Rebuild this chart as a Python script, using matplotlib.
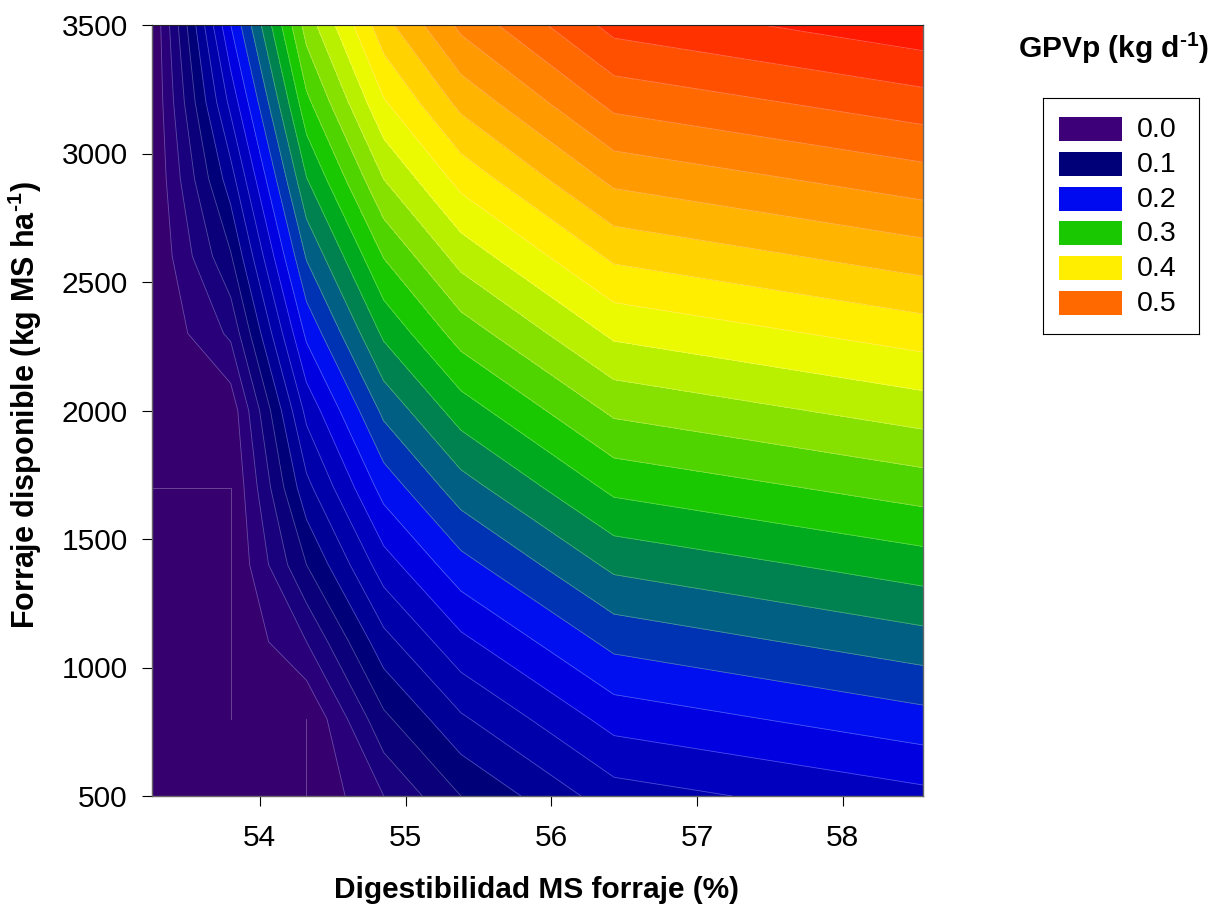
import numpy as np
import matplotlib
matplotlib.use('Agg')
import matplotlib.pyplot as plt
from matplotlib.colors import ListedColormap, BoundaryNorm
from matplotlib.patches import Rectangle

plt.rcParams['font.family'] = ['Liberation Sans', 'DejaVu Sans']
plt.rcParams['mathtext.fontset'] = 'custom'
plt.rcParams['mathtext.rm'] = 'Liberation Sans:bold'
plt.rcParams['mathtext.bf'] = 'Liberation Sans:bold'

# grid
digest = [53.26, 53.80, 54.32, 54.85, 55.38, 56.43, 58.55]
forraje = [500, 800, 1100, 1400, 1700, 2000, 2300, 2600, 2900, 3200, 3500]

gpv_5326 = [.02, .02, .02, .02, .02, .02, .02, .02, .02, .02, .02]
gpv_5380 = [.02, .02, .02, .02, .02, .027, .064, .098, .131, .166, .200]
gpv_5432 = [.02, .02, .06, .10, .134, .166, .2045, .242, .279, .315, .349]
gpv_5485 = [.06, .0955, .133, .171, .208, .245, .284, .321, .360, .398, .433]
gpv_5538 = [.10, .137, .175, .213, .251, .290, .329, .368, .407, .446, .485]
gpv_5643 = [.151, .188, .226, .265, .305, .344, .384, .424, .465, .506, .547]
gpv_5855 = [.1745, .213, .252, .2908, .3297, .3697, .4097, .4505, .491, .532, .574]

levels = np.arange(0.02, 0.5801, 0.02)
band_colors = ['#37006F', '#2A007A', '#19007D', '#0C007A', '#000078', '#000096',
               '#0000AA', '#0000BE', '#0000E1', '#000FF0', '#0032B4', '#005F82',
               '#008250', '#00AA1E', '#19C800', '#50D400', '#87E100', '#B9F000',
               '#EBFA00', '#FFEE00', '#FFD200', '#FFB400', '#FF9B00', '#FF8200',
               '#FF6900', '#FF5000', '#FF3200', '#FF1900']

# lines where the surface sits flat on the lowest level
flat_a_x = [53.26, 53.80, 53.80]
flat_a_y = [1700, 1700, 800]
flat_b_x = [54.32, 54.32]
flat_b_y = [800, 500]

legend_labels = ['0.0', '0.1', '0.2', '0.3', '0.4', '0.5']
legend_colors = ['#3E0078', '#000078', '#000AF0', '#19C800', '#FFEE00', '#FF6900']

W, H = 1214, 907
fig = plt.figure(figsize=(W / 100, H / 100), dpi=100)
ax = fig.add_axes([152 / W, 1 - 796 / H, 771 / W, 771 / H])

Z = np.array([gpv_5326, gpv_5380, gpv_5432, gpv_5485, gpv_5538, gpv_5643, gpv_5855]).T
cmap = ListedColormap(band_colors)
norm = BoundaryNorm(levels, cmap.N)
cf = ax.contourf(digest, forraje, Z, levels=levels, cmap=cmap, norm=norm, antialiased=False)
ax.contour(digest, forraje, Z, levels=levels[1:], colors='white', linewidths=0.6, alpha=0.3)
ax.plot(flat_a_x, flat_a_y, color='white', lw=0.6, alpha=0.3)
ax.plot(flat_b_x, flat_b_y, color='white', lw=0.6, alpha=0.3)

ax.set_xlim(53.26, 58.55)
ax.set_ylim(500, 3500)
ax.set_xticks([54, 55, 56, 57, 58])
ax.set_yticks(np.arange(500, 3501, 500))
ax.tick_params(labelsize=21.5, length=7.5, width=0.8)
ax.tick_params(axis='x', pad=13)
ax.tick_params(axis='y', pad=10)
for side in ['left', 'bottom', 'right']:
    ax.spines[side].set_color('#666666')
    ax.spines[side].set_linewidth(1.0)
ax.spines['top'].set_color('#222222')

fig.text(536 / W, 1 - 890 / H, 'Digestibilidad MS forraje (%)', fontsize=21.5, fontweight='bold',
         ha='center', va='center')
fig.text(25 / W, 1 - 405 / H, r'Forraje disponible (kg MS ha$^{\text{-1}}$)', fontsize=22,
         fontweight='bold', rotation=90, ha='center', va='center')
fig.text(1114 / W, 1 - 48 / H, r'GPVp (kg d$^{\text{-1}}$)', fontsize=21.5, fontweight='bold',
         ha='center', va='center')

# legend box, its own axes in pixel units
lax = fig.add_axes([1043 / W, 1 - 334 / H, 156 / W, 236 / H])
lax.set_xlim(0, 156)
lax.set_ylim(236, 0)
lax.set_xticks([])
lax.set_yticks([])
for i, (lab, col) in enumerate(zip(legend_labels, legend_colors)):
    lax.add_patch(Rectangle((16, 19 + i * 34.8), 63, 24, facecolor=col, edgecolor='none'))
    lax.text(94, 32 + i * 34.8, lab, fontsize=20.5, ha='left', va='center')

plt.savefig('out.png', dpi=100)
